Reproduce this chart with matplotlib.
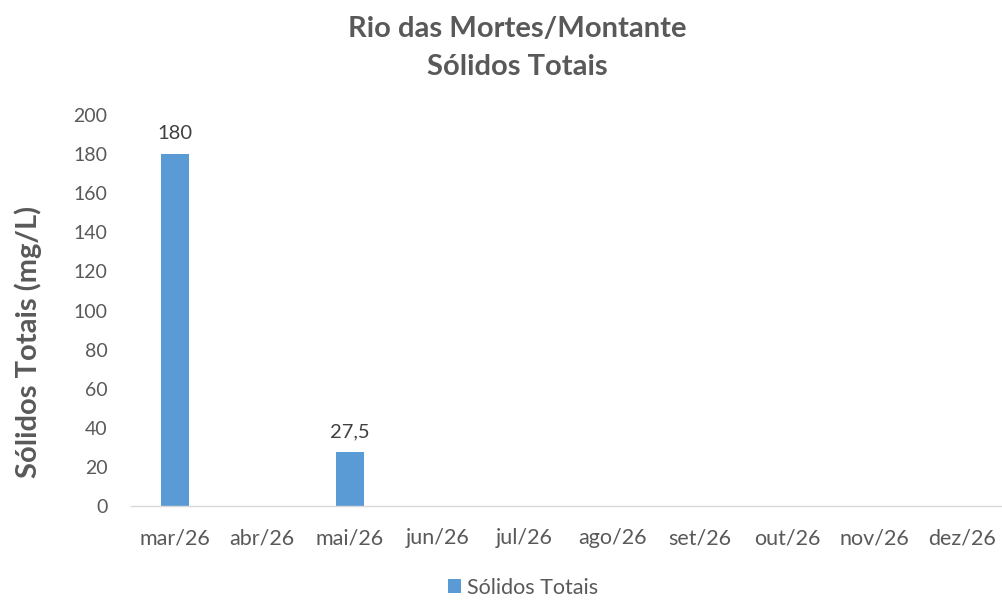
import matplotlib
matplotlib.use("Agg")
import matplotlib.pyplot as plt

categories = ["mar/26", "abr/26", "mai/26", "jun/26", "jul/26", "ago/26",
              "set/26", "out/26", "nov/26", "dez/26"]
values = [180, None, 27.5, None, None, None, None, None, None, None]
labels = ["180", "", "27,5", "", "", "", "", "", "", ""]
yticks = [0, 20, 40, 60, 80, 100, 120, 140, 160, 180, 200]

plt.rcParams['font.family'] = ['Lato', 'DejaVu Sans']
gray = "#595959"
blue = "#5B9BD5"

fig = plt.figure(figsize=(10.02, 6.01), dpi=100)
ax = fig.add_axes([0.1307, 0.158, 0.873, 0.6506])

xs = [i for i, v in enumerate(values) if v is not None]
vs = [v for v in values if v is not None]
bars = ax.bar(xs, vs, width=0.32, color=blue, label="Sólidos Totais", zorder=2)
for i, v in enumerate(values):
    if v is not None:
        ax.text(i, v + 6, labels[i], ha="center", va="bottom", fontsize=14.5, color="#404040")

ax.set_xlim(-0.5, 9.5)
ax.set_ylim(0, 200)
ax.set_xticks(range(len(categories)))
ax.set_xticklabels(categories, fontsize=15.5, color=gray)
ax.set_yticks(yticks)
ax.set_yticklabels([str(t) for t in yticks], fontsize=14, color=gray)
ax.tick_params(axis="both", length=0)
ax.tick_params(axis="x", pad=16)
ax.tick_params(axis="y", pad=17)
for s in ["top", "right", "left"]:
    ax.spines[s].set_visible(False)
ax.spines["bottom"].set_color("#D9D9D9")
ax.spines["bottom"].set_linewidth(1)

ax.set_ylabel("Sólidos Totais (mg/L)", fontsize=21, fontweight="bold", color=gray)
ax.yaxis.set_label_coords(-0.102, 0.42)
fig.text(0.516, 0.952, "Rio das Mortes/Montante", ha="center", va="center",
         fontsize=21, fontweight="bold", color=gray)
fig.text(0.516, 0.888, "Sólidos Totais", ha="center", va="center",
         fontsize=21, fontweight="bold", color=gray)

fig.legend(handles=[bars], labels=["Sólidos Totais"], loc="center",
           bbox_to_anchor=(0.522, 0.022), frameon=False, fontsize=15.5,
           handlelength=0.6, handleheight=0.6, handletextpad=0.25,
           labelcolor=gray)

fig.savefig("out.png", dpi=100)
